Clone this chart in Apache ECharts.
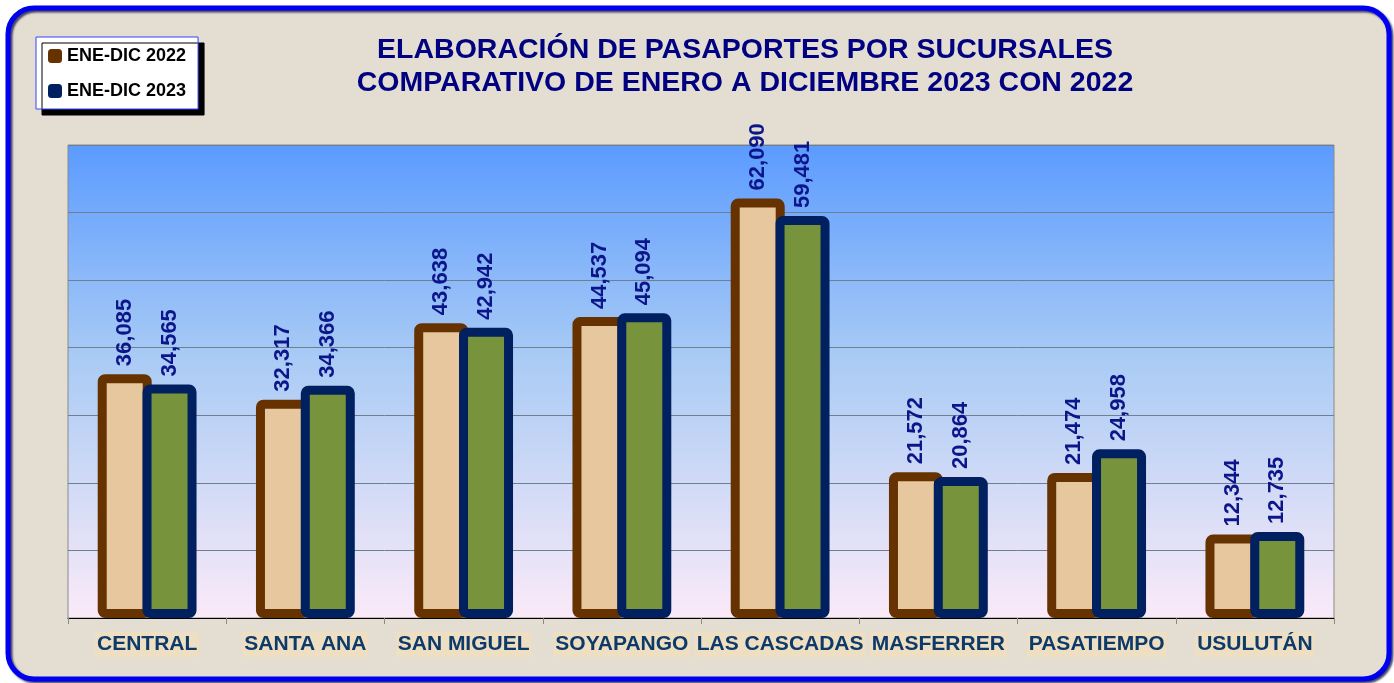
<!DOCTYPE html>
<html>
<head>
<meta charset="utf-8">
<script src="https://cdn.jsdelivr.net/npm/echarts@6/dist/echarts.min.js"></script>
<style>
  html, body { margin: 0; padding: 0; background: #ffffff; }
  #chart { width: 1394px; height: 683px; }
</style>
</head>
<body>
<div id="chart"></div>
<script>
var categories = ['CENTRAL', 'SANTA ANA', 'SAN MIGUEL', 'SOYAPANGO', 'LAS CASCADAS', 'MASFERRER', 'PASATIEMPO', 'USULUTÁN'];
var values2022 = [36085, 32317, 43638, 44537, 62090, 21572, 21474, 12344];
var values2023 = [34565, 34366, 42942, 45094, 59481, 20864, 24958, 12735];
var seriesNames = ['ENE-DIC 2022', 'ENE-DIC 2023'];

var myChart = echarts.init(document.getElementById('chart'));

function fmt(p) {
    return p.value.toLocaleString('en-US');
}

var labelStyle = {
    show: true,
    position: 'top',
    rotate: 90,
    align: 'left',
    verticalAlign: 'middle',
    distance: 8,
    color: '#0C168A',
    fontFamily: 'Arial',
    fontWeight: 'bold',
    fontSize: 22,
    formatter: fmt
};

option = {
    animation: false,
    graphic: [
        {
            type: 'rect',
            z: -10,
            shape: { x: 8, y: 8, width: 1381, height: 671, r: 26 },
            style: {
                fill: '#E3DDD2',
                stroke: '#0000F0',
                lineWidth: 5,
                shadowColor: 'rgba(0,0,60,0.7)',
                shadowOffsetX: 2,
                shadowOffsetY: 2,
                shadowBlur: 2
            }
        },
        {
            type: 'text',
            z: 10,
            style: {
                text: 'ELABORACIÓN DE PASAPORTES POR SUCURSALES\nCOMPARATIVO DE ENERO A DICIEMBRE 2023 CON 2022',
                x: 745,
                y: 34,
                textAlign: 'center',
                fill: '#000080',
                font: 'bold 28.5px Arial',
                lineHeight: 33
            }
        }
    ],
    legend: {
        left: 36,
        top: 37,
        orient: 'vertical',
        backgroundColor: '#ffffff',
        borderColor: '#3344FF',
        borderWidth: 1,
        borderRadius: 0,
        shadowColor: '#000000',
        shadowOffsetX: 6,
        shadowOffsetY: 6,
        shadowBlur: 0,
        padding: [10, 12, 9, 12],
        itemWidth: 14,
        itemHeight: 14,
        itemGap: 17,
        textStyle: { color: '#000000', fontFamily: 'Arial', fontWeight: 'bold', fontSize: 18 },
        data: [
            { name: seriesNames[0], icon: 'roundRect', itemStyle: { color: '#663300', borderColor: '#663300', borderWidth: 0 } },
            { name: seriesNames[1], icon: 'roundRect', itemStyle: { color: '#002060', borderColor: '#002060', borderWidth: 0 } }
        ]
    },
    grid: {
        left: 68,
        top: 145,
        width: 1266,
        height: 473,
        show: true,
        borderColor: '#8A8A8A',
        borderWidth: 1,
        backgroundColor: new echarts.graphic.LinearGradient(0, 0, 0, 1, [
            { offset: 0, color: '#5B9BFF' },
            { offset: 0.45, color: '#A9CBF5' },
            { offset: 1, color: '#FBEAF8' }
        ])
    },
    xAxis: {
        type: 'category',
        data: categories,
        axisLine: { show: true, lineStyle: { color: '#000000', width: 1 } },
        axisTick: { show: true, length: 6, lineStyle: { color: '#8A8A8A' } },
        axisLabel: {
            interval: 0,
            margin: 14,
            color: '#0E3A6A',
            fontFamily: 'Arial',
            fontWeight: 'bold',
            fontSize: 21,
            backgroundColor: '#EEDFC3',
            padding: [2, 2, 2, 2]
        }
    },
    yAxis: {
        type: 'value',
        min: 0,
        max: 70000,
        interval: 10000,
        axisLine: { show: false },
        axisTick: { show: false },
        axisLabel: { show: false },
        splitLine: { lineStyle: { color: '#6F7F92', width: 1 } }
    },
    series: [
        {
            name: seriesNames[0],
            type: 'bar',
            data: values2022,
            barWidth: 54,
            barGap: '-17%',
            itemStyle: {
                color: '#E7C89E',
                borderColor: '#663300',
                borderWidth: 9,
                borderRadius: 3
            },
            label: labelStyle
        },
        {
            name: seriesNames[1],
            type: 'bar',
            data: values2023,
            barWidth: 54,
            barGap: '-17%',
            itemStyle: {
                color: '#77933C',
                borderColor: '#002060',
                borderWidth: 9,
                borderRadius: 3
            },
            label: labelStyle
        }
    ]
};

myChart.setOption(option);
window.addEventListener('resize', function() {
    myChart.resize();
});
</script>
</body>
</html>
